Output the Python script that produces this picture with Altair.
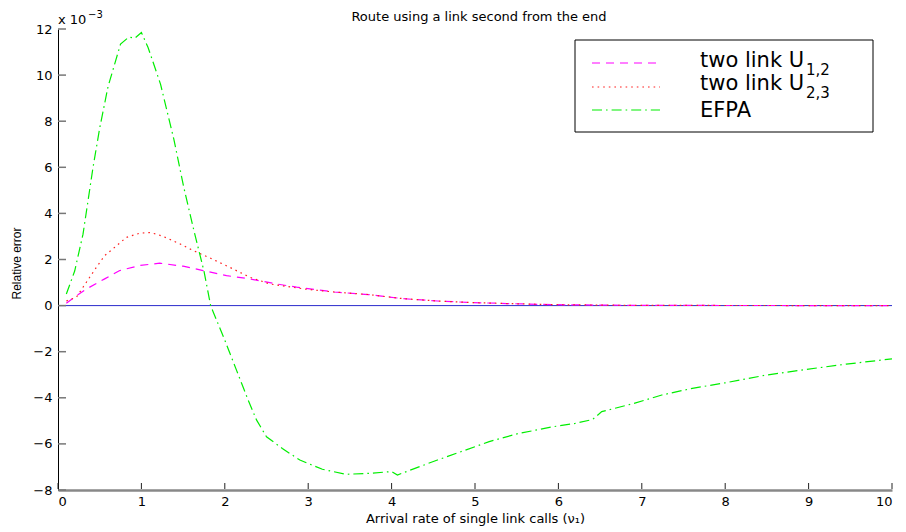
import altair as alt
import pandas as pd

# ---- data (values in units of 1e-3, as displayed on the axis) ----
efpa_x = [0.1, 0.2, 0.3, 0.42, 0.5, 0.6, 0.75, 0.85, 0.92, 1.0, 1.08, 1.23, 1.39, 1.51, 1.63, 1.75,
          1.83, 2.0, 2.14, 2.28, 2.38, 2.5, 2.69, 2.9, 3.17, 3.45, 3.72, 4.0, 4.07, 4.28, 4.55, 4.83,
          5.17, 5.52, 5.93, 6.2, 6.41, 6.52, 6.9, 7.24, 7.59, 8.0, 8.48, 8.97, 9.45, 10.0]
efpa_y = [0.5, 1.5, 3.1, 6.0, 7.7, 9.5, 11.35, 11.65, 11.6, 11.85, 11.2, 9.6, 7.2, 5.1, 3.25, 1.5,
          0.0, -1.5, -2.8, -4.1, -4.96, -5.69, -6.2, -6.7, -7.1, -7.32, -7.28, -7.2, -7.35, -7.06, -6.7, -6.34,
          -5.9, -5.55, -5.26, -5.11, -4.94, -4.6, -4.25, -3.88, -3.6, -3.35, -3.02, -2.77, -2.54, -2.31]

u12_x = [0.1, 0.22, 0.34, 0.56, 0.74, 0.98, 1.22, 1.5, 1.74, 2.02, 2.3, 2.62, 2.86,
         3.31, 3.72, 4.14, 4.55, 4.97, 5.38, 5.93, 6.9, 8.0, 10.0]
u12_y = [0.1, 0.43, 0.72, 1.16, 1.52, 1.74, 1.84, 1.71, 1.52, 1.3, 1.16, 0.94, 0.8,
         0.59, 0.48, 0.3, 0.2, 0.13, 0.09, 0.04, 0.01, 0.005, 0.0]

u23_x = [0.1, 0.22, 0.38, 0.46, 0.56, 0.68, 0.82, 0.98, 1.1, 1.2, 1.3, 1.46, 1.62, 1.82, 2.06,
         2.3, 2.54, 2.8, 3.0, 3.31, 3.72, 4.14, 4.55, 4.97, 5.38, 5.93, 6.9, 8.0, 10.0]
u23_y = [0.2, 0.36, 1.23, 1.66, 2.17, 2.53, 2.96, 3.14, 3.17, 3.08, 2.94, 2.68, 2.39, 2.07, 1.66,
         1.23, 0.94, 0.8, 0.7, 0.59, 0.48, 0.3, 0.2, 0.13, 0.09, 0.04, 0.01, 0.005, 0.0]

series_names = ["two link U1,2", "two link U2,3", "EFPA"]
legend_main = ["two link U", "two link U", "EFPA"]
legend_sub = ["1,2", "2,3", ""]
x_ticks = [0, 1, 2, 3, 4, 5, 6, 7, 8, 9, 10]
y_ticks = [-8, -6, -4, -2, 0, 2, 4, 6, 8, 10, 12]
title_text = "Route using a link second from the end"

colors = ["#ff00ff", "#ff2020", "#00ee00"]
dashes = [[8, 6], [1.6, 4], [10, 4, 1.6, 4]]

W, H = 834, 461
FONT = "DejaVu Sans"

rows = []
for name, xs, ys in [(series_names[0], u12_x, u12_y),
                     (series_names[1], u23_x, u23_y),
                     (series_names[2], efpa_x, efpa_y)]:
    for i, (a, b) in enumerate(zip(xs, ys)):
        rows.append({"series": name, "x": a, "y": b, "i": i})
df = pd.DataFrame(rows)

xscale = alt.Scale(domain=[0, 10], nice=False, zero=False)
yscale = alt.Scale(domain=[-8, 12], nice=False, zero=False)

zero_line = alt.Chart(pd.DataFrame({"v": [0]})).mark_rule(color="#2a2acc", strokeWidth=1).encode(
    y=alt.Y("v:Q", scale=yscale), x=alt.value(0), x2=alt.value(W)
)

lines = alt.Chart(df).mark_line(strokeWidth=1.2, clip=True).encode(
    x=alt.X("x:Q", scale=xscale,
            axis=alt.Axis(values=x_ticks, format="d", title="Arrival rate of single link calls (ν₁)",
                          tickSize=0, labelPadding=5, domainColor="#888888", domainWidth=2.5,
                          labelFont=FONT, labelFontSize=13, labelColor="black",
                          titleFont=FONT, titleFontSize=13, titleFontWeight="normal",
                          titleColor="black", titlePadding=4, grid=False)),
    y=alt.Y("y:Q", scale=yscale,
            axis=alt.Axis(values=y_ticks, format="d", title="Relative error",
                          tickSize=0, labelPadding=6, domainColor="black", domainWidth=1,
                          labelFont=FONT, labelFontSize=13, labelColor="black",
                          titleFont="Liberation Sans", titleFontSize=12, titleFontWeight="normal",
                          titleColor="black", titleX=-42, titleY=234, titleAngle=-90,
                          titleAlign="center", titleBaseline="middle", grid=False)),
    color=alt.Color("series:N", scale=alt.Scale(domain=series_names, range=colors), legend=None),
    strokeDash=alt.StrokeDash("series:N", scale=alt.Scale(domain=series_names, range=dashes), legend=None),
    order="i:Q",
)

xtick_rules = alt.Chart(pd.DataFrame({"t": x_ticks})).mark_rule(color="#222222", strokeWidth=1).encode(
    x=alt.X("t:Q", scale=xscale), y=alt.value(H - 1), y2=alt.value(H - 7)
)
ytick_rules = alt.Chart(pd.DataFrame({"t": y_ticks})).mark_rule(color="#777777", strokeWidth=1.5).encode(
    y=alt.Y("t:Q", scale=yscale), x=alt.value(0), x2=alt.value(8)
)

one = pd.DataFrame({"k": [0]})

title_mark = alt.Chart(one).mark_text(
    align="center", baseline="middle", font=FONT, fontSize=13, color="black"
).encode(x=alt.value(421), y=alt.value(-12), text=alt.value(title_text))

# multiplier label
mult = alt.Chart(one).mark_text(
    align="left", baseline="middle", font=FONT, fontSize=13, color="black"
).encode(x=alt.value(0), y=alt.value(-9), text=alt.value("x 10"))
mult_exp = alt.Chart(one).mark_text(
    align="left", baseline="middle", font=FONT, fontSize=10, color="black"
).encode(x=alt.value(30), y=alt.value(-14), text=alt.value("−3"))

# legend
legend_layers = [
    alt.Chart(one).mark_rect(fill="white", stroke="black", strokeWidth=1).encode(
        x=alt.value(517), x2=alt.value(815), y=alt.value(11), y2=alt.value(103)
    )
]
row_line_y = [34, 58, 81]
row_text_y = [38, 61, 88]
for i in range(3):
    legend_layers.append(
        alt.Chart(one).mark_rule(
            color=colors[i], strokeDash=dashes[i], strokeWidth=1.2
        ).encode(x=alt.value(534), x2=alt.value(602), y=alt.value(row_line_y[i]))
    )
    legend_layers.append(
        alt.Chart(one).mark_text(
            align="left", baseline="alphabetic", font=FONT, fontSize=21, color="black"
        ).encode(x=alt.value(642), y=alt.value(row_text_y[i]), text=alt.value(legend_main[i]))
    )
    if legend_sub[i]:
        legend_layers.append(
            alt.Chart(one).mark_text(
                align="left", baseline="alphabetic", font=FONT, fontSize=15, color="black"
            ).encode(x=alt.value(748), y=alt.value(row_text_y[i] + 8), text=alt.value(legend_sub[i]))
        )

chart = alt.layer(
    zero_line, lines, xtick_rules, ytick_rules, title_mark, mult, mult_exp, *legend_layers
).properties(
    width=W, height=H,
    autosize=alt.AutoSizeParams(type="none"),
    padding={"left": 50, "top": 21, "right": 6, "bottom": 42},
    background="white",
).configure_view(stroke=None)

chart.save("out.html", embed_options={"renderer": "svg", "actions": False})
